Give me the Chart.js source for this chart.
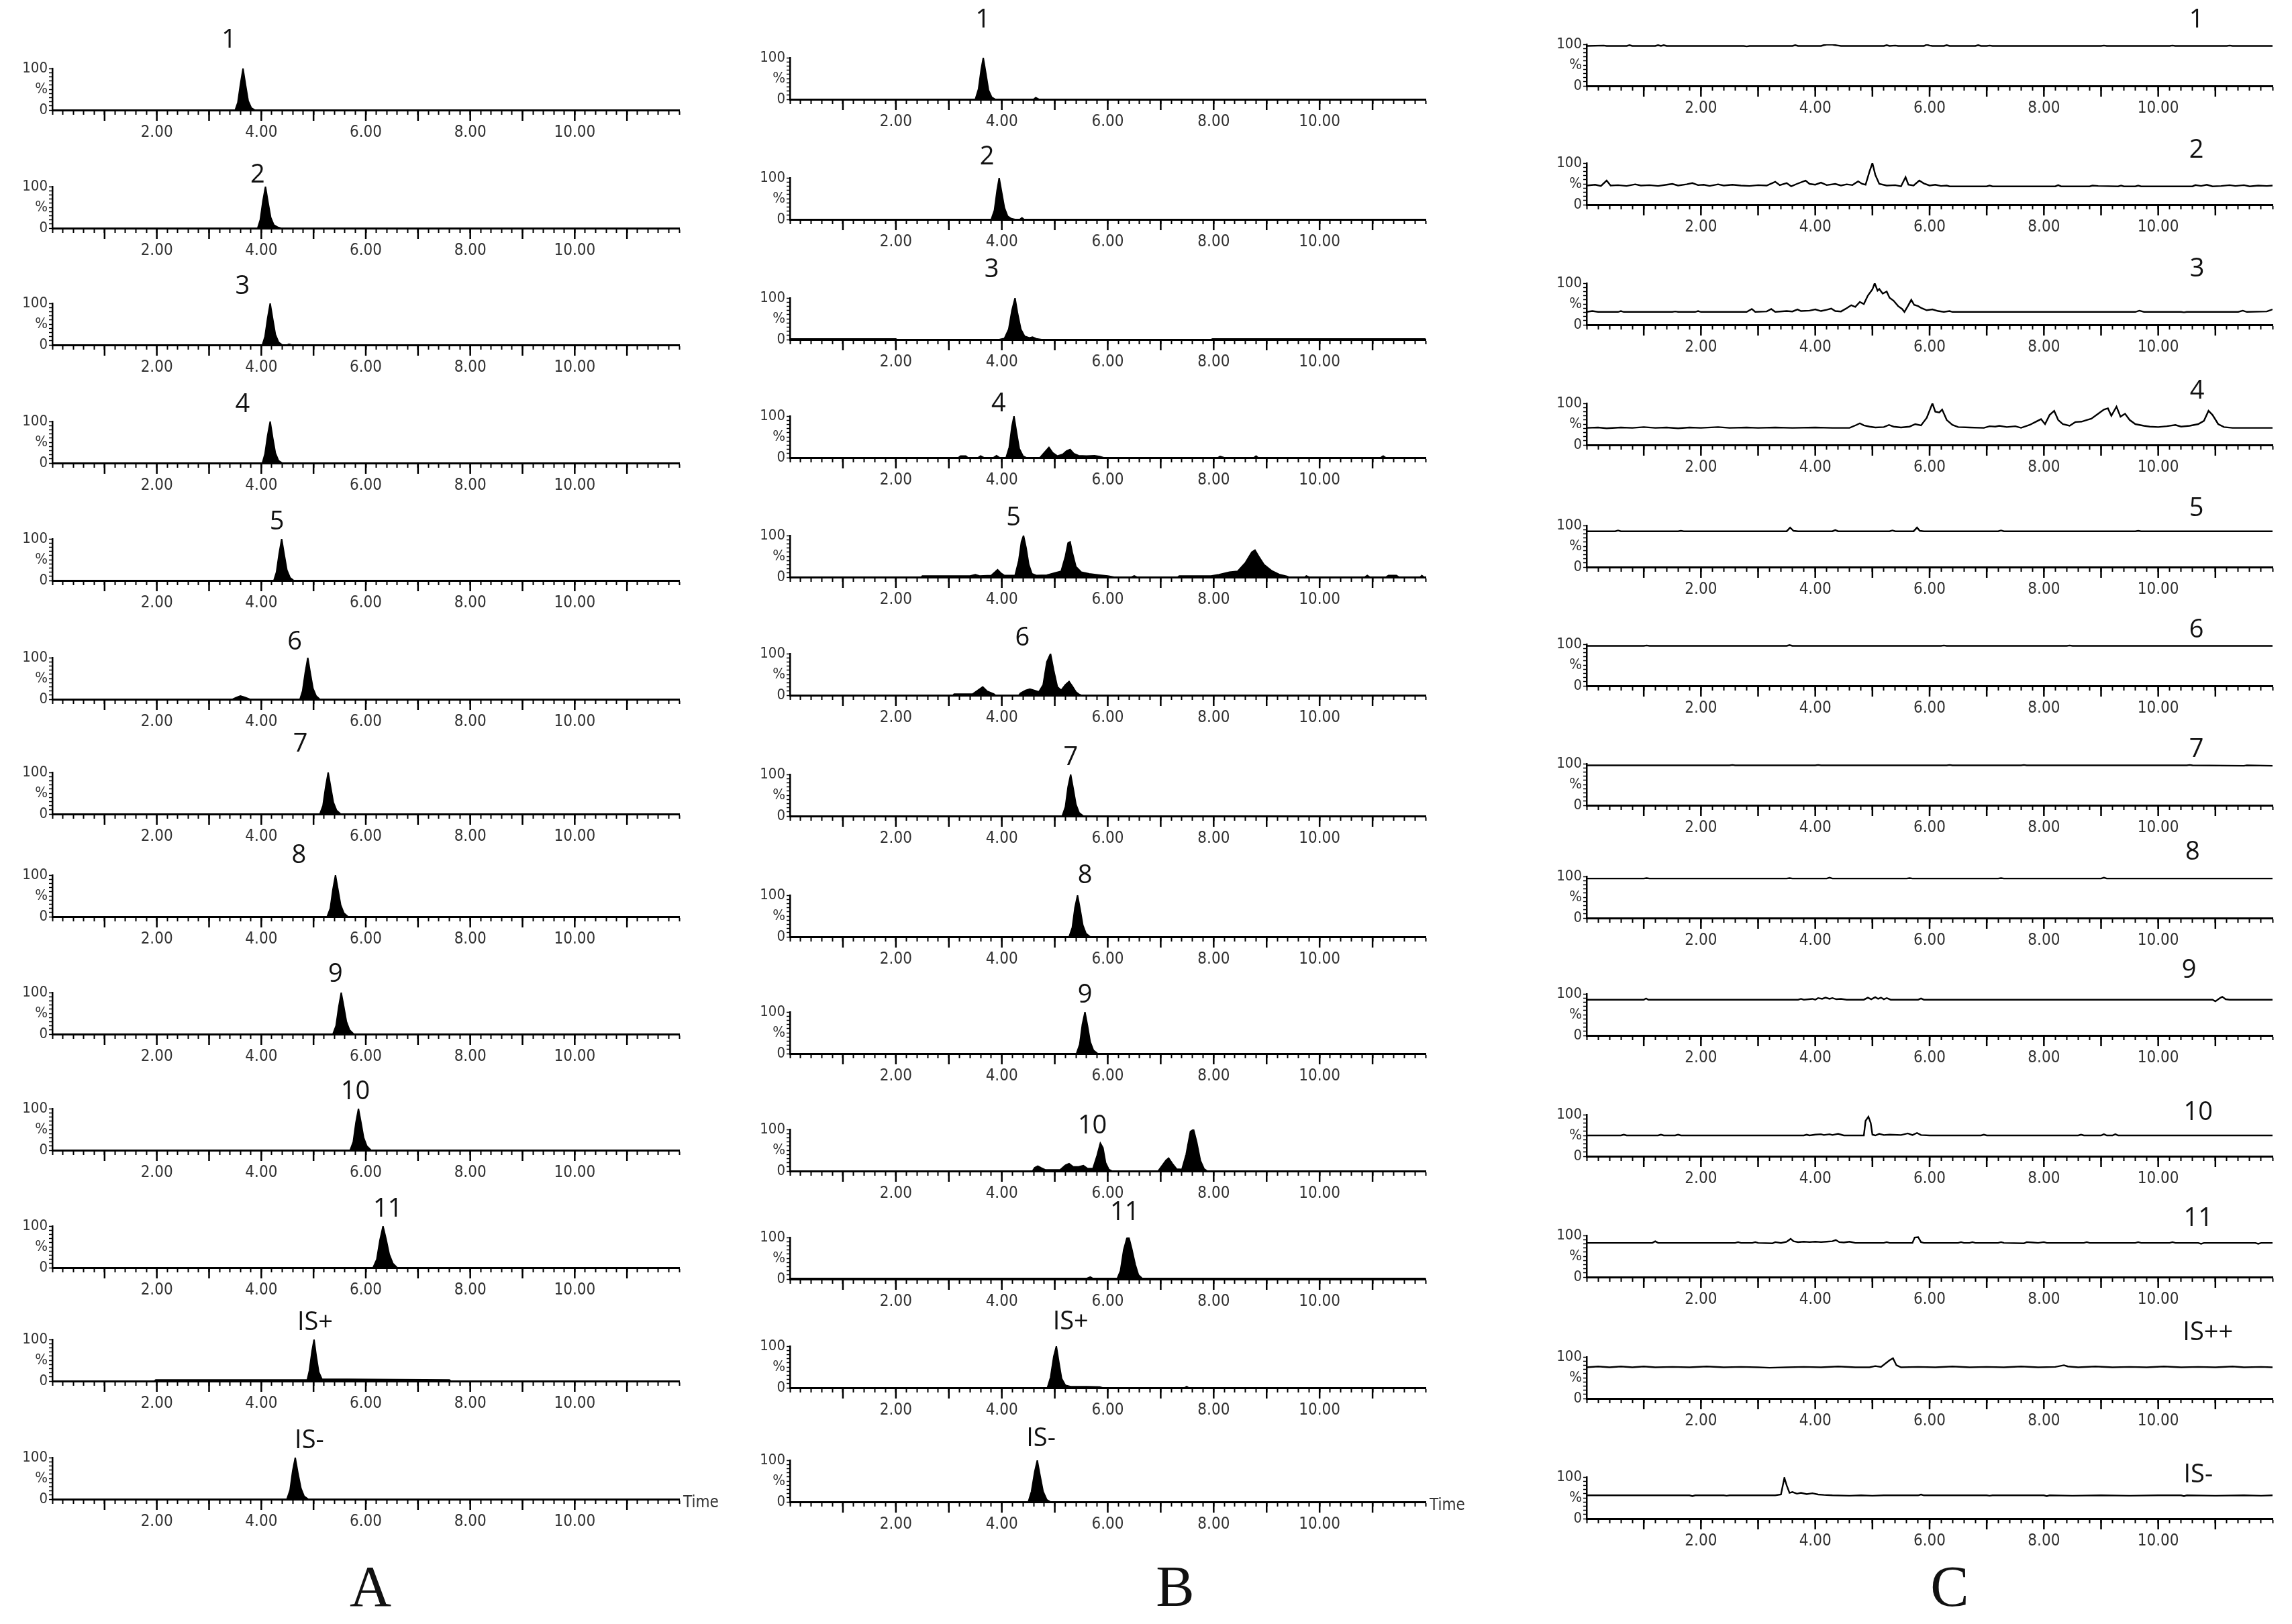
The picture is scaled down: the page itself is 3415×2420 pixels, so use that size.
<!DOCTYPE html>
<html>
<head>
<meta charset="utf-8">
<script src="https://cdn.jsdelivr.net/npm/chart.js@4.4.1/dist/chart.umd.min.js"></script>
<style>
  body { margin: 0; background: #fff; width: 3415px; height: 2420px; position: relative; overflow: hidden; }
  canvas { position: absolute; }
  .panel { position: absolute; font-family: "Liberation Serif", "DejaVu Serif", serif; font-size: 86px; color: #111; transform: translate(-50%, -50%); }
</style>
</head>
<body>
<div class="panel" style="left:552px;top:2364px">A</div>
<div class="panel" style="left:1751px;top:2364px">B</div>
<div class="panel" style="left:2905px;top:2364px">C</div>
<script>
// axis ticks
const xTickValues = [2, 4, 6, 8, 10];
const xTickText = ['2.00', '4.00', '6.00', '8.00', '10.00'];
const yTickValues = [0, 50, 100];
const yTickText = ['0', '%', '100'];
const wholeMinutes = [1, 2, 3, 4, 5, 6, 7, 8, 9, 10, 11];

// peak names
const namesAB = ['1', '2', '3', '4', '5', '6', '7', '8', '9', '10', '11', 'IS+', 'IS-'];
const namesC = ['1', '2', '3', '4', '5', '6', '7', '8', '9', '10', '11', 'IS++', 'IS-'];

// where the names sit: time (min) and height (% of the trace scale)
const nameTimeA = [3.38, 3.93, 3.64, 3.64, 4.30, 4.64, 4.75, 4.72, 5.42, 5.80, 6.42, 5.03, 4.92];
const nameLevelA = [167, 127, 140, 140, 140, 137, 168, 147, 144, 140, 140, 140, 140];
const nameTimeB = [3.64, 3.72, 3.81, 3.94, 4.22, 4.39, 5.30, 5.57, 5.57, 5.71, 6.32, 5.30, 4.74];
const nameLevelB = [190, 150, 168, 129, 142, 137, 140, 147, 140, 108, 160, 158, 152];
const nameTimeC = [10.67, 10.67, 10.68, 10.68, 10.67, 10.67, 10.67, 10.6, 10.54, 10.7, 10.7, 10.87, 10.7];
const nameLevelC = [157, 130, 134, 129, 140, 133, 133, 158, 156, 104, 140, 157, 104];

// A: standards, [time, intensity %]
const A1 = [[0,0],[3.50,0],[3.55,18],[3.60,62],[3.65,100],[3.70,60],[3.75,22],[3.81,5],[3.88,0],[12,0]];
const A2 = [[0,0],[3.93,0],[3.98,20],[4.03,65],[4.08,100],[4.13,62],[4.18,26],[4.24,8],[4.32,2],[4.38,0],[12,0]];
const A3 = [[0,0],[4.02,0],[4.07,20],[4.12,64],[4.17,100],[4.22,62],[4.27,25],[4.33,7],[4.40,0],[4.50,0],[4.53,2],[4.58,0],[12,0]];
const A4 = [[0,0],[4.02,0],[4.07,22],[4.12,66],[4.17,100],[4.22,60],[4.27,24],[4.33,6],[4.40,0],[12,0]];
const A5 = [[0,0],[4.24,0],[4.29,20],[4.34,64],[4.39,100],[4.44,62],[4.49,25],[4.55,7],[4.62,0],[12,0]];
const A6 = [[0,0],[3.45,0],[3.52,4],[3.60,8],[3.68,5],[3.78,0],[4.74,0],[4.79,20],[4.84,64],[4.89,100],[4.94,62],[4.99,26],[5.05,8],[5.12,0],[12,0]];
const A7 = [[0,0],[5.12,0],[5.18,20],[5.23,64],[5.28,100],[5.33,64],[5.38,28],[5.44,9],[5.52,0],[12,0]];
const A8 = [[0,0],[5.26,0],[5.32,20],[5.37,65],[5.42,100],[5.47,64],[5.52,28],[5.58,9],[5.66,0],[12,0]];
const A9 = [[0,0],[5.37,0],[5.43,20],[5.48,64],[5.53,100],[5.58,66],[5.63,30],[5.69,10],[5.77,0],[12,0]];
const A10 = [[0,0],[5.70,0],[5.76,20],[5.81,66],[5.86,100],[5.91,66],[5.96,30],[6.02,10],[6.10,0],[12,0]];
const A11 = [[0,0],[6.14,0],[6.21,20],[6.27,66],[6.33,100],[6.39,68],[6.45,32],[6.52,10],[6.60,0],[12,0]];
const A12 = [[0,0],[1.95,0],[1.98,3],[4.88,3],[4.92,25],[4.97,72],[5.01,100],[5.05,62],[5.10,22],[5.16,5],[7.60,3],[7.63,0],[12,0]];
const A13 = [[0,0],[4.49,0],[4.55,22],[4.60,68],[4.65,100],[4.70,64],[4.76,26],[4.82,7],[4.90,0],[12,0]];

// B: spiked samples
const B1 = [[0,0],[3.50,0],[3.56,25],[3.61,72],[3.65,100],[3.70,62],[3.75,22],[3.81,5],[3.88,0],[4.60,0],[4.64,4],[4.70,0],[12,0]];
const B2 = [[0,0],[3.80,0],[3.86,22],[3.91,70],[3.95,100],[4.00,64],[4.05,28],[4.11,8],[4.18,2],[4.25,0],[4.34,0],[4.38,4],[4.42,0],[12,0]];
const B3 = [[0,1.5],[2.0,1.5],[2.02,0],[3.95,0],[4.05,3],[4.13,25],[4.19,70],[4.25,100],[4.30,62],[4.36,25],[4.43,8],[4.52,4],[4.58,6],[4.65,2],[4.75,0],[7.95,0],[7.98,1.5],[12,1.5]];
const B4 = [[0,0],[3.18,0],[3.22,4],[3.32,4],[3.36,0],[3.55,0],[3.60,4],[3.66,0],[3.84,0],[3.90,5],[3.96,0],[4.08,0],[4.14,25],[4.19,75],[4.23,100],[4.28,60],[4.33,22],[4.40,4],[4.46,0],[4.72,0],[4.80,12],[4.89,25],[4.96,12],[5.05,4],[5.15,8],[5.22,16],[5.29,20],[5.36,10],[5.45,5],[5.60,4],[5.75,5],[5.85,3],[5.92,0],[8.08,0],[8.12,3],[8.20,0],[8.76,0],[8.80,4],[8.84,0],[11.15,0],[11.20,4],[11.25,0],[12,0]];
const B5 = [[0,0],[2.48,0],[2.50,3],[3.40,3],[3.50,6],[3.58,3],[3.80,4],[3.87,12],[3.92,18],[3.98,10],[4.05,4],[4.25,4],[4.32,40],[4.37,85],[4.41,100],[4.46,70],[4.51,30],[4.57,8],[4.65,4],[4.85,5],[5.00,10],[5.12,14],[5.20,50],[5.25,82],[5.29,85],[5.33,60],[5.40,25],[5.50,12],[5.65,8],[5.85,5],[6.00,3],[6.12,0],[6.45,0],[6.50,3],[6.55,0],[7.32,0],[7.35,3],[7.95,3],[8.10,6],[8.30,12],[8.45,14],[8.60,35],[8.72,60],[8.78,65],[8.85,50],[8.95,30],[9.10,15],[9.25,6],[9.38,2],[9.42,0],[9.72,0],[9.75,3],[9.80,0],[10.85,0],[10.90,4],[10.95,0],[11.25,0],[11.30,4],[11.45,4],[11.50,0],[11.90,0],[11.93,4],[11.97,0],[12,0]];
const B6 = [[0,0],[3.08,0],[3.10,3],[3.45,3],[3.55,12],[3.64,20],[3.72,10],[3.85,3],[3.88,0],[4.32,0],[4.35,5],[4.45,12],[4.53,15],[4.60,12],[4.70,8],[4.78,25],[4.85,80],[4.92,100],[4.98,60],[5.05,20],[5.12,12],[5.20,25],[5.27,33],[5.33,22],[5.40,8],[5.46,2],[5.50,0],[12,0]];
const B7 = [[0,0],[5.14,0],[5.20,22],[5.25,70],[5.30,100],[5.35,65],[5.40,28],[5.46,8],[5.54,0],[12,0]];
const B8 = [[0,0],[5.27,0],[5.33,22],[5.38,70],[5.43,100],[5.48,66],[5.53,28],[5.59,8],[5.67,0],[12,0]];
const B9 = [[0,0],[5.41,0],[5.47,22],[5.52,70],[5.57,100],[5.62,66],[5.67,28],[5.73,8],[5.81,0],[12,0]];
const B10 = [[0,0],[4.58,0],[4.62,8],[4.68,12],[4.74,8],[4.82,3],[5.10,3],[5.20,14],[5.27,18],[5.35,10],[5.45,10],[5.54,13],[5.62,6],[5.72,6],[5.80,38],[5.86,67],[5.91,56],[5.96,20],[6.02,4],[6.08,0],[6.95,0],[7.02,12],[7.10,26],[7.15,31],[7.22,18],[7.30,5],[7.40,4],[7.48,40],[7.56,95],[7.62,100],[7.68,70],[7.75,25],[7.82,5],[7.88,0],[12,0]];
const B11 = [[0,1.5],[5.60,1.5],[5.67,5],[5.72,1.5],[6.18,1.5],[6.24,20],[6.30,70],[6.36,98],[6.40,100],[6.45,75],[6.52,35],[6.58,10],[6.65,1.5],[12,1.5]];
const B12 = [[0,0],[4.86,0],[4.92,25],[4.98,75],[5.03,100],[5.08,60],[5.13,22],[5.20,6],[5.30,3],[5.60,3],[5.85,2],[5.90,0],[7.45,0],[7.49,3],[7.53,0],[12,0]];
const B13 = [[0,0],[4.50,0],[4.56,25],[4.62,72],[4.67,100],[4.72,65],[4.78,25],[4.85,5],[4.92,0],[12,0]];

// C: blank matrix
const C1 = [[0,96],[0.30,97],[0.35,96],[0.70,96],[0.75,98],[0.80,96],[1.20,96],[1.25,98],[1.30,96],[1.35,98],[1.40,96],[2.75,96],[2.80,95],[2.85,96],[3.60,96],[3.65,98],[3.70,96],[4.10,96],[4.15,98],[4.20,99],[4.30,99],[4.35,98],[4.40,97],[4.45,96],[5.20,96],[5.25,98],[5.30,96],[5.40,97],[5.45,96],[5.90,96],[5.95,99],[6.00,97],[6.05,96],[6.25,96],[6.30,98],[6.35,96],[6.80,96],[6.85,98],[6.90,96],[7.00,96],[7.05,97],[7.10,96],[9.00,96],[9.05,97],[9.10,96],[10.20,96],[10.25,97],[10.30,96],[11.20,96],[11.25,97],[11.30,96],[12,96]];
const C2 = [[0,46],[0.15,48],[0.25,45],[0.35,58],[0.42,46],[0.55,47],[0.70,45],[0.85,49],[0.95,46],[1.10,47],[1.25,45],[1.40,48],[1.50,50],[1.60,46],[1.75,49],[1.85,52],[1.95,47],[2.05,48],[2.15,45],[2.30,49],[2.40,46],[2.55,48],[2.70,46],[2.85,45],[3.00,47],[3.15,46],[3.30,55],[3.38,47],[3.50,52],[3.58,44],[3.68,50],[3.83,58],[3.90,50],[4.00,48],[4.10,53],[4.20,47],[4.35,50],[4.45,46],[4.55,49],[4.65,47],[4.75,56],[4.82,50],[4.88,48],[4.95,80],[5.00,100],[5.05,72],[5.12,50],[5.25,46],[5.40,47],[5.50,44],[5.58,66],[5.63,48],[5.72,46],[5.82,58],[5.90,51],[6.00,46],[6.10,48],[6.20,45],[6.30,46],[6.35,44],[7.00,44],[7.05,46],[7.10,44],[8.20,44],[8.25,47],[8.30,44],[8.80,44],[8.85,46],[8.95,45],[9.30,44],[9.35,46],[9.40,44],[9.60,44],[9.65,46],[9.70,44],[10.60,44],[10.65,47],[10.75,45],[10.85,48],[10.95,44],[11.10,45],[11.25,47],[11.35,45],[11.50,47],[11.60,44],[11.75,46],[11.90,45],[12,46]];
const C3 = [[0,31],[0.10,33],[0.20,31],[0.55,31],[0.60,33],[0.65,31],[1.50,31],[1.55,32],[1.60,31],[1.90,31],[1.95,33],[2.00,31],[2.80,31],[2.89,38],[2.95,31],[3.15,32],[3.23,38],[3.30,31],[3.50,33],[3.60,32],[3.69,37],[3.75,33],[3.90,34],[4.00,37],[4.10,33],[4.20,36],[4.28,39],[4.35,33],[4.45,32],[4.55,40],[4.63,47],[4.70,43],[4.78,55],[4.85,50],[4.92,70],[5.00,85],[5.04,100],[5.09,82],[5.12,86],[5.18,75],[5.25,80],[5.30,65],[5.37,58],[5.45,45],[5.52,38],[5.56,31],[5.62,45],[5.68,60],[5.73,48],[5.80,45],[5.86,40],[5.95,35],[6.05,37],[6.15,33],[6.25,31],[6.35,33],[6.40,31],[9.60,31],[9.67,34],[9.75,31],[10.40,31],[10.45,30],[10.50,31],[11.40,31],[11.48,34],[11.55,31],[11.90,32],[12,37]];
const C4 = [[0,41],[0.20,42],[0.35,40],[0.60,42],[0.80,41],[1.00,43],[1.20,41],[1.40,42],[1.60,40],[1.80,42],[2.00,41],[2.30,43],[2.50,41],[2.80,42],[3.00,41],[3.30,42],[3.60,41],[4.00,42],[4.30,41],[4.60,41],[4.72,48],[4.78,52],[4.85,47],[4.95,44],[5.05,42],[5.20,43],[5.29,48],[5.37,44],[5.50,42],[5.65,44],[5.75,50],[5.85,47],[5.95,65],[6.05,100],[6.10,80],[6.17,78],[6.22,85],[6.30,60],[6.40,48],[6.50,43],[6.70,42],[6.95,41],[7.05,45],[7.15,44],[7.22,46],[7.35,43],[7.50,45],[7.60,41],[7.75,48],[7.85,55],[7.95,62],[8.02,50],[8.10,72],[8.18,82],[8.25,60],[8.33,50],[8.45,46],[8.55,55],[8.66,56],[8.75,60],[8.83,63],[8.95,75],[9.05,85],[9.12,88],[9.18,70],[9.27,92],[9.34,68],[9.42,75],[9.50,60],[9.60,50],[9.75,46],[9.85,44],[10.00,43],[10.15,45],[10.30,48],[10.40,44],[10.55,46],[10.70,50],[10.80,58],[10.88,82],[10.95,72],[11.05,50],[11.15,43],[11.30,41],[12,41]];
const C5 = [[0,86],[0.50,86],[0.55,88],[0.60,86],[1.60,86],[1.65,87],[1.70,86],[3.50,86],[3.56,95],[3.62,87],[3.70,86],[4.30,86],[4.35,89],[4.40,86],[5.30,86],[5.35,88],[5.40,86],[5.72,86],[5.78,95],[5.83,87],[5.90,86],[7.20,86],[7.25,88],[7.30,86],[9.60,86],[9.65,87],[9.70,86],[12,86]];
const C6 = [[0,96],[1.00,96],[1.05,97],[1.10,96],[3.50,96],[3.55,98],[3.60,96],[6.20,96],[6.25,97],[6.30,96],[8.40,96],[8.45,97],[8.50,96],[12,96]];
const C7 = [[0,96],[2.50,96],[2.55,97],[2.60,96],[4.00,96],[4.05,97],[4.10,96],[6.30,96],[6.35,97],[6.40,96],[7.60,96],[7.65,97],[7.70,96],[10.50,96],[10.55,97],[10.60,96],[11.50,95],[11.55,96],[12,95]];
const C8 = [[0,95],[1.00,95],[1.05,96],[1.10,95],[3.50,95],[3.55,96],[3.60,95],[4.20,95],[4.25,97],[4.30,95],[5.60,95],[5.65,96],[5.70,95],[7.20,95],[7.25,96],[7.30,95],[9.00,95],[9.05,97],[9.10,95],[12,95]];
const C9 = [[0,86],[1.00,86],[1.04,89],[1.08,86],[3.70,86],[3.75,88],[3.80,86],[3.95,88],[4.00,86],[4.05,90],[4.12,88],[4.18,91],[4.25,88],[4.30,90],[4.37,87],[4.45,88],[4.55,86],[4.85,86],[4.92,91],[4.98,87],[5.05,92],[5.10,88],[5.15,91],[5.20,87],[5.25,90],[5.32,86],[5.80,86],[5.85,89],[5.90,86],[10.95,86],[11.00,82],[11.08,90],[11.12,93],[11.18,87],[11.25,86],[12,86]];
const C10 = [[0,50],[0.60,50],[0.65,52],[0.70,50],[1.25,50],[1.30,52],[1.35,50],[1.55,50],[1.60,52],[1.65,50],[3.80,50],[3.85,52],[3.90,50],[4.00,52],[4.10,53],[4.15,51],[4.25,53],[4.30,51],[4.40,54],[4.50,50],[4.85,50],[4.88,85],[4.93,95],[4.97,80],[5.00,52],[5.05,50],[5.12,54],[5.20,51],[5.30,52],[5.50,51],[5.62,55],[5.70,51],[5.78,56],[5.85,51],[6.00,50],[6.90,50],[6.95,52],[7.00,50],[8.60,50],[8.65,52],[8.70,50],[9.00,50],[9.05,53],[9.10,50],[9.20,50],[9.25,53],[9.30,50],[12,50]];
const C11 = [[0,82],[1.15,82],[1.20,86],[1.25,82],[2.60,82],[2.65,84],[2.70,82],[2.90,82],[2.95,84],[3.00,82],[3.25,81],[3.30,84],[3.40,82],[3.50,85],[3.57,92],[3.62,86],[3.70,84],[3.80,85],[3.90,84],[4.00,85],[4.10,84],[4.20,85],[4.30,86],[4.36,89],[4.42,84],[4.50,83],[4.60,85],[4.70,82],[5.20,82],[5.25,84],[5.30,82],[5.70,82],[5.74,95],[5.80,96],[5.85,84],[5.90,82],[6.50,82],[6.55,84],[6.60,82],[6.70,82],[6.75,84],[6.80,82],[7.20,82],[7.25,84],[7.30,82],[7.65,81],[7.70,84],[7.80,83],[7.90,82],[8.00,84],[8.05,82],[8.70,82],[8.75,84],[8.80,82],[9.60,82],[9.65,84],[9.70,82],[10.20,82],[10.25,84],[10.30,82],[10.70,82],[10.75,80],[10.80,82],[11.70,82],[11.75,80],[11.80,82],[12,82]];
const C12 = [[0,75],[0.20,77],[0.40,75],[0.60,77],[0.80,75],[1.00,77],[1.20,75],[1.50,76],[1.80,75],[2.10,77],[2.40,75],[2.70,76],[3.00,75],[3.20,74],[3.50,75],[3.80,76],[4.10,75],[4.40,77],[4.70,75],[4.95,75],[5.05,78],[5.15,76],[5.30,92],[5.36,97],[5.42,80],[5.50,75],[5.80,76],[6.10,75],[6.40,77],[6.70,75],[7.00,76],[7.30,75],[7.60,77],[7.90,75],[8.20,76],[8.35,80],[8.42,77],[8.60,75],[8.90,77],[9.20,75],[9.50,76],[9.80,75],[10.10,77],[10.40,75],[10.70,76],[11.00,75],[11.30,77],[11.50,75],[11.80,76],[12,75]];
const C13 = [[0,56],[1.80,56],[1.85,54],[1.90,56],[2.40,56],[2.45,55],[2.50,56],[3.30,56],[3.40,58],[3.46,98],[3.50,80],[3.55,62],[3.60,64],[3.68,60],[3.75,62],[3.85,59],[3.95,61],[4.05,58],[4.15,57],[4.30,56],[4.60,55],[4.80,56],[5.00,55],[5.20,56],[5.80,56],[5.85,58],[5.90,56],[7.00,56],[7.05,55],[7.10,56],[8.00,56],[8.05,54],[8.10,56],[8.50,55],[9.00,56],[9.50,55],[10.00,56],[10.40,56],[10.45,54],[10.50,56],[11.00,55],[11.50,56],[11.80,55],[12,56]];

// page layout (pixels)
const PLOT_H = 62, PAD_TOP = 90, AXIS_W = 60, AXIS_H = 52, PAD_RIGHT = 95;
const columns = [
  { left: 78, width: 934, filled: true, traces: [A1,A2,A3,A4,A5,A6,A7,A8,A9,A10,A11,A12,A13], names: namesAB, nameTime: nameTimeA, nameLevel: nameLevelA,
    base: [164, 340, 514, 690, 865, 1042, 1213, 1366, 1541, 1714, 1889, 2058, 2234] },
  { left: 1177, width: 947, filled: true, traces: [B1,B2,B3,B4,B5,B6,B7,B8,B9,B10,B11,B12,B13], names: namesAB, nameTime: nameTimeB, nameLevel: nameLevelB,
    base: [148, 327, 506, 682, 860, 1036, 1216, 1396, 1570, 1745, 1906, 2068, 2238] },
  { left: 2364, width: 1022, filled: false, traces: [C1,C2,C3,C4,C5,C6,C7,C8,C9,C10,C11,C12,C13], names: namesC, nameTime: nameTimeC, nameLevel: nameLevelC,
    base: [128, 305, 484, 663, 845, 1022, 1200, 1368, 1543, 1723, 1903, 2084, 2263] }
];

const narrow = '"Liberation Sans Narrow", "DejaVu Sans Condensed", "Liberation Sans", sans-serif';

// long ticks at whole minutes, the peak name and the Time caption
const annotate = {
  id: 'annotate',
  afterDraw(chart, args, opts) {
    const { ctx, chartArea } = chart;
    const xs = chart.scales.x, ys = chart.scales.y;
    ctx.save();
    ctx.strokeStyle = '#000';
    ctx.lineWidth = 2.5;
    wholeMinutes.forEach(function (t) {
      const px = xs.getPixelForValue(t);
      ctx.beginPath();
      ctx.moveTo(px, chartArea.bottom);
      ctx.lineTo(px, chartArea.bottom + 16);
      ctx.stroke();
    });
    ctx.fillStyle = '#111';
    ctx.textAlign = 'center';
    ctx.textBaseline = 'middle';
    ctx.font = '38px "Open Sans", "Noto Sans", sans-serif';
    ctx.fillText(opts.text, xs.getPixelForValue(opts.t), ys.getPixelForValue(opts.level));
    if (opts.time) {
      ctx.font = '24px ' + narrow;
      ctx.textAlign = 'left';
      ctx.fillStyle = '#333';
      ctx.fillText('Time', chartArea.right + 6, chartArea.bottom + 6);
    }
    ctx.restore();
  }
};

function drawTrace(col, r) {
  const cv = document.createElement('canvas');
  const w = AXIS_W + col.width + PAD_RIGHT, h = PAD_TOP + PLOT_H + AXIS_H;
  cv.width = w; cv.height = h;
  cv.style.width = w + 'px'; cv.style.height = h + 'px';
  cv.style.left = (col.left - AXIS_W) + 'px';
  cv.style.top = (col.base[r] - PLOT_H - PAD_TOP) + 'px';
  document.body.appendChild(cv);

  new Chart(cv, {
    type: 'line',
    data: {
      datasets: [{
        data: col.traces[r].map(p => ({ x: p[0], y: p[1] })),
        borderColor: '#000',
        backgroundColor: '#000',
        borderWidth: col.filled ? 2 : 2.4,
        fill: col.filled ? 'origin' : false,
        pointRadius: 0,
        tension: 0
      }]
    },
    options: {
      responsive: false,
      animation: false,
      events: [],
      layout: { padding: { top: PAD_TOP, right: PAD_RIGHT, left: 0, bottom: 0 } },
      scales: {
        x: {
          type: 'linear', min: 0, max: 12,
          ticks: {
            stepSize: 0.2, autoSkip: false, maxRotation: 0, padding: 12,
            color: '#333', font: { family: narrow, size: 24 },
            callback: function (v) {
              const i = xTickValues.findIndex(t => Math.abs(t - v) < 1e-6);
              return i >= 0 ? xTickText[i] : '';
            }
          },
          grid: { drawOnChartArea: false, tickLength: 7, tickWidth: 2, tickColor: '#000' },
          border: { color: '#000', width: 3 },
          afterFit: function (s) { s.height = AXIS_H; }
        },
        y: {
          min: 0, max: 100,
          ticks: {
            stepSize: 10, autoSkip: false, padding: 2,
            color: '#333', font: { family: narrow, size: 22 },
            callback: function (v) {
              const i = yTickValues.indexOf(v);
              return i >= 0 ? yTickText[i] : '';
            }
          },
          grid: { drawOnChartArea: false, tickLength: 5, tickWidth: 1.5, tickColor: '#000' },
          border: { color: '#000', width: 2.5 },
          afterFit: function (s) { s.width = AXIS_W; }
        }
      },
      plugins: {
        legend: { display: false },
        tooltip: { enabled: false },
        annotate: { text: col.names[r], t: col.nameTime[r], level: col.nameLevel[r], time: col.filled && r === 12 }
      }
    },
    plugins: [annotate]
  });
}

columns.forEach(function (col) {
  col.traces.forEach(function (tr, r) { drawTrace(col, r); });
});
</script>
</body>
</html>
